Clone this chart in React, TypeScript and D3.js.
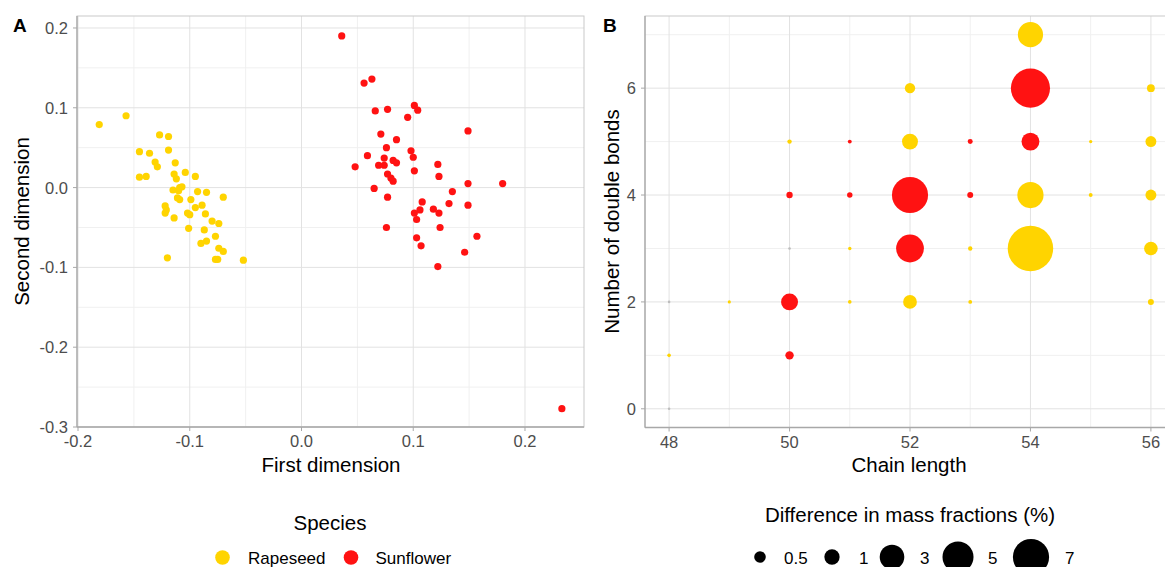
import React from 'react';
import * as d3 from 'd3';

// Panel A: multidimensional scaling coordinates
const rapeseedX = [-0.181, -0.157, -0.127, -0.119, -0.145, -0.136, -0.119, -0.131, -0.129, -0.145, -0.139, -0.113,
	-0.104, -0.095, -0.114, -0.112, -0.109, -0.107, -0.115, -0.110, -0.111, -0.109, -0.099, -0.093, -0.085, -0.070,
	-0.089, -0.095, -0.086, -0.122, -0.121, -0.122, -0.102, -0.100, -0.114, -0.080, -0.074, -0.101, -0.087, -0.077,
	-0.085, -0.090, -0.074, -0.070, -0.120, -0.077, -0.075, -0.052];
const rapeseedY = [0.079, 0.090, 0.066, 0.064, 0.045, 0.043, 0.047, 0.032, 0.026, 0.013, 0.014, 0.031,
	0.019, 0.014, 0.017, 0.011, 0.000, 0.001, -0.003, -0.004, -0.013, -0.015, -0.015, -0.005, -0.006, -0.012,
	-0.022, -0.025, -0.033, -0.023, -0.028, -0.032, -0.032, -0.034, -0.038, -0.042, -0.045, -0.051, -0.053, -0.061,
	-0.067, -0.070, -0.076, -0.080, -0.088, -0.090, -0.090, -0.091];
const sunflowerX = [0.036, 0.056, 0.063, 0.066, 0.077, 0.101, 0.104, 0.095, 0.149, 0.071, 0.085, 0.076,
	0.098, 0.059, 0.074, 0.100, 0.082, 0.085, 0.069, 0.074, 0.048, 0.122, 0.101, 0.123, 0.077, 0.080,
	0.082, 0.180, 0.149, 0.065, 0.135, 0.077, 0.108, 0.132, 0.149, 0.106, 0.118, 0.101, 0.123, 0.103,
	0.076, 0.124, 0.103, 0.157, 0.107, 0.146, 0.122, 0.233];
const sunflowerY = [0.190, 0.131, 0.136, 0.096, 0.098, 0.103, 0.097, 0.088, 0.071, 0.067, 0.060, 0.050,
	0.046, 0.040, 0.037, 0.038, 0.034, 0.031, 0.028, 0.028, 0.026, 0.029, 0.021, 0.014, 0.017, 0.012,
	0.008, 0.005, 0.005, -0.001, -0.005, -0.012, -0.018, -0.020, -0.022, -0.028, -0.027, -0.032, -0.032, -0.040,
	-0.050, -0.050, -0.063, -0.061, -0.073, -0.081, -0.099, -0.277];

// Panel B: chain length, double bonds, signed difference (+ rapeseed higher, - sunflower higher)
const chainLength = [54, 52, 54, 56, 50, 51, 52, 53, 54, 55, 56, 50, 51, 52, 53, 54, 55, 56,
	50, 51, 52, 53, 54, 56, 48, 49, 50, 51, 52, 53, 56, 48, 50, 48];
const doubleBonds = [7, 6, 6, 6, 5, 5, 5, 5, 5, 5, 5, 4, 4, 4, 4, 4, 4, 4,
	3, 3, 3, 3, 3, 3, 2, 2, 2, 2, 2, 2, 2, 1, 1, 0];
const massDiff = [3.17, 0.37, -8.27, 0.17, 0.02, -0.01, 1.1, -0.035, -1.45, 0.003, 0.43, -0.088, -0.05, -6.97, -0.07, 3.46, 0.01, 0.43,
	0, 0.004, -3.94, 0.02, 11.4, 0.75, 0, 0.002, -1.27, 0.006, 0.77, 0.009, 0.07, 0.006, -0.21, 0];

const sizeBreaks = [0.5, 1, 3, 5, 7];
const xTicksA = [-0.2, -0.1, 0, 0.1, 0.2];
const yTicksA = [-0.3, -0.2, -0.1, 0, 0.1, 0.2];
const xMinorA = [-0.15, -0.05, 0.05, 0.15];
const yMinorA = [-0.25, -0.15, -0.05, 0.05, 0.15];
const xTicksB = [48, 50, 52, 54, 56];
const yTicksB = [0, 2, 4, 6];
const xMinorB = [49, 51, 53, 55];
const yMinorB = [1, 3, 5, 7];

const YELLOW = '#FFD400';
const RED = '#FF1212';
const GREY = '#BDBDBD';
const FONT = '"Liberation Sans", Arial, Helvetica, sans-serif';

// ggplot prints a plain hyphen for negatives
const fmtA = (v: number) => v.toFixed(1);

const Panel = ({ x, y, xTicks, yTicks, xMinor, yMinor, xFmt, yFmt }: any) => {
	const [x0, x1] = x.range();
	const [y0, y1] = y.range();
	return (
		<g>
			{xMinor.map((t: number) => <line key={'xm' + t} x1={x(t)} x2={x(t)} y1={y1} y2={y0} stroke="#F0F0F0" />)}
			{yMinor.map((t: number) => <line key={'ym' + t} x1={x0} x2={x1} y1={y(t)} y2={y(t)} stroke="#F0F0F0" />)}
			{xTicks.map((t: number) => <line key={'xg' + t} x1={x(t)} x2={x(t)} y1={y1} y2={y0} stroke="#E2E2E2" />)}
			{yTicks.map((t: number) => <line key={'yg' + t} x1={x0} x2={x1} y1={y(t)} y2={y(t)} stroke="#E2E2E2" />)}
			<rect x={x0} y={y1} width={x1 - x0} height={y0 - y1} fill="none" stroke="#C9C9C9" />
			<line x1={x0} x2={x1} y1={y0} y2={y0} stroke="#A8A8A8" strokeWidth={1.3} />
			<line x1={x0} x2={x0} y1={y1} y2={y0} stroke="#A8A8A8" strokeWidth={1.3} />
			{xTicks.map((t: number) => (
				<g key={'xt' + t}>
					<line x1={x(t)} x2={x(t)} y1={y0} y2={y0 + 4} stroke="#A8A8A8" />
					<text x={x(t)} y={y0 + 20} textAnchor="middle" fontSize={16.5} fill="#4D4D4D">{xFmt(t)}</text>
				</g>
			))}
			{yTicks.map((t: number) => (
				<g key={'yt' + t}>
					<line x1={x0 - 4} x2={x0} y1={y(t)} y2={y(t)} stroke="#A8A8A8" />
					<text x={x0 - 9} y={y(t) + 6} textAnchor="end" fontSize={16.5} fill="#4D4D4D">{yFmt(t)}</text>
				</g>
			))}
		</g>
	);
};

const App = () => {
	const xA = d3.scaleLinear().domain([-0.2009, 0.2528]).range([77, 584]);
	const yA = d3.scaleLinear().domain([-0.3, 0.215]).range([427, 16]);
	const xB = d3.scaleLinear().domain([47.6, 56.4]).range([645, 1175]);
	const yB = d3.scaleLinear().domain([-0.35, 7.35]).range([427.5, 16]);
	const rB = d3.scaleSqrt().domain([0, 12]).range([1.3, 1.3 + 6.35 * Math.sqrt(12)]);

	const bubbles = massDiff.map((v, i) => ({ c: chainLength[i], b: doubleBonds[i], v }))
		.sort((p, q) => Math.abs(p.v) - Math.abs(q.v));
	const bubbleColor = (v: number) => (v > 0 ? YELLOW : v < 0 ? RED : GREY);
	const legendBX = [760, 832, 892, 958, 1031];
	const legendBLabelX = [784, 859, 920, 988, 1065];

	return (
		<svg width={1165} height={567} style={{ position: 'absolute', left: 0, top: 0, background: '#fff' }}
			fontFamily={FONT}>
			<rect width={1165} height={567} fill="#fff" />

			{/* Panel A */}
			<Panel x={xA} y={yA} xTicks={xTicksA} yTicks={yTicksA} xMinor={xMinorA} yMinor={yMinorA}
				xFmt={fmtA} yFmt={fmtA} />
			{rapeseedX.map((v, i) => <circle key={'r' + i} cx={xA(v)} cy={yA(rapeseedY[i])} r={3.6} fill={YELLOW} />)}
			{sunflowerX.map((v, i) => <circle key={'s' + i} cx={xA(v)} cy={yA(sunflowerY[i])} r={3.6} fill={RED} />)}
			<text x={13} y={32} fontSize={19} fontWeight="bold">A</text>
			<text x={331} y={472} textAnchor="middle" fontSize={20.5}>First dimension</text>
			<text transform="translate(29,221.5) rotate(-90)" textAnchor="middle" fontSize={20.5}>Second dimension</text>

			{/* Panel B */}
			<Panel x={xB} y={yB} xTicks={xTicksB} yTicks={yTicksB} xMinor={xMinorB} yMinor={yMinorB}
				xFmt={(t: number) => String(t)} yFmt={(t: number) => String(t)} />
			{bubbles.map((d, i) => (
				<circle key={'b' + i} cx={xB(d.c)} cy={yB(d.b)} r={rB(Math.abs(d.v))} fill={bubbleColor(d.v)} />
			))}
			<text x={603} y={32} fontSize={19} fontWeight="bold">B</text>
			<text x={909} y={472} textAnchor="middle" fontSize={20.5}>Chain length</text>
			<text transform="translate(619,221.5) rotate(-90)" textAnchor="middle" fontSize={20.5}>Number of double bonds</text>

			{/* Legend A */}
			<text x={330} y={530} textAnchor="middle" fontSize={20.5}>Species</text>
			<circle cx={222.5} cy={557.5} r={7.3} fill={YELLOW} />
			<text x={248} y={564} fontSize={17}>Rapeseed</text>
			<circle cx={351} cy={557.5} r={7.3} fill={RED} />
			<text x={375.5} y={564} fontSize={17}>Sunflower</text>

			{/* Legend B */}
			<text x={910} y={522} textAnchor="middle" fontSize={20.5}>Difference in mass fractions (%)</text>
			{sizeBreaks.map((v, i) => (
				<g key={'lb' + v}>
					<circle cx={legendBX[i]} cy={557} r={rB(v)} fill="#000" />
					<text x={legendBLabelX[i]} y={564} fontSize={17}>{String(v)}</text>
				</g>
			))}
		</svg>
	);
};

export default App;
